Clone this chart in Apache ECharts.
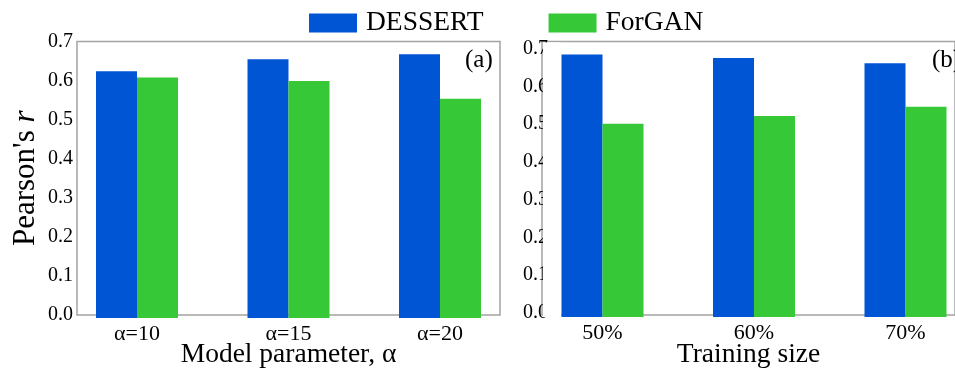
<!DOCTYPE html>
<html>
<head>
<meta charset="utf-8">
<script src="https://cdn.jsdelivr.net/npm/echarts@6/dist/echarts.min.js"></script>
<style>
  html, body { margin: 0; padding: 0; background: #fff; }
  #chart { width: 955px; height: 374px; }
</style>
</head>
<body>
<div id="chart"></div>
<script>
// Panel (a): effect of the model parameter α
const categoriesA = ['α=10', 'α=15', 'α=20'];
const dessertA = [0.625, 0.655, 0.668];
const forganA = [0.609, 0.600, 0.555];

// Panel (b): effect of the training size
const categoriesB = ['50%', '60%', '70%'];
const dessertB = [0.667, 0.658, 0.645];
const forganB = [0.491, 0.511, 0.534];

// Shared value axis
const yMin = 0;
const yMax = 0.7;
const yStep = 0.1;

const seriesNames = ['DESSERT', 'ForGAN'];
const BLUE = '#0055d4';
const GREEN = '#37c837';
const FONT = "'Liberation Serif', 'Times New Roman', serif";
const FRAME = '#a3a3a3';

// Layout (pixels); category points run from firstX to lastX
const A = { frameL: 77, frameR: 500, top: 41.5, bottom: 318, firstX: 137, lastX: 440 };
const B = { frameL: 542, frameR: 958, top: 41.5, bottom: 317, firstX: 602.5, lastX: 905.5,
            labelTop: 48.5, labelBottom: 313 };
const BAR_W = 41;

const chart = echarts.init(document.getElementById('chart'), null, { renderer: 'canvas' });

const labelFmt = v => v.toFixed(1);
const yTickText = { fontFamily: FONT, fontSize: 20, color: '#000' };
const xTickText = { fontFamily: FONT, fontSize: 22, color: '#000' };
const titleText = { fontFamily: FONT, fontSize: 27.5, color: '#000' };

function hiddenValueAxis(gridIndex, extra) {
  return Object.assign({
    gridIndex, type: 'value', min: 0, max: 1, show: false,
    splitLine: { show: false }
  }, extra || {});
}

function frameXAxis(gridIndex, name) {
  return {
    gridIndex, type: 'value', min: 0, max: 1,
    name, nameLocation: 'middle', nameGap: 26,
    nameTextStyle: titleText,
    axisLine: { show: false }, axisTick: { show: false },
    axisLabel: { show: false }, splitLine: { show: false }
  };
}

function valueY(gridIndex, extra) {
  return Object.assign({
    gridIndex, type: 'value', min: yMin, max: yMax, interval: yStep,
    axisLine: { show: false }, axisTick: { show: false },
    splitLine: { show: false }
  }, extra || {});
}

function categoryX(gridIndex, data) {
  return {
    gridIndex, type: 'category', data, boundaryGap: false,
    axisLine: { show: false }, axisTick: { show: false },
    axisLabel: Object.assign({ margin: 5 }, xTickText),
    splitLine: { show: false }
  };
}

function bars(name, data, axisIdx, color) {
  return {
    name, type: 'bar', data,
    xAxisIndex: axisIdx, yAxisIndex: axisIdx,
    barWidth: BAR_W, barGap: '0%',
    itemStyle: { color },
    emphasis: { disabled: true },
    animation: false
  };
}

const option = {
  animation: false,
  backgroundColor: '#fff',
  textStyle: { fontFamily: FONT },
  legend: {
    data: seriesNames,
    left: 304, top: 4,
    itemWidth: 48, itemHeight: 19, itemGap: 65,
    icon: 'rect',
    textStyle: Object.assign({ padding: [0, 0, 0, 4] }, titleText),
    selectedMode: false
  },
  grid: [
    // 0: frame of panel (a)
    { left: A.frameL, top: A.top, width: A.frameR - A.frameL, height: A.bottom - A.top,
      show: true, borderColor: FRAME, borderWidth: 1.5, backgroundColor: 'transparent' },
    // 1: bars of panel (a)
    { left: A.firstX, top: A.top, width: A.lastX - A.firstX, height: A.bottom - A.top },
    // 2: frame of panel (b)
    { left: B.frameL, top: B.top, width: B.frameR - B.frameL, height: B.bottom - B.top,
      show: true, borderColor: FRAME, borderWidth: 1.5, backgroundColor: 'transparent' },
    // 3: bars of panel (b)
    { left: B.firstX, top: B.top, width: B.lastX - B.firstX, height: B.bottom - B.top },
    // 4: tick labels of panel (b)
    { left: B.frameL + 8, top: B.labelTop, width: 10, height: B.labelBottom - B.labelTop }
  ],
  xAxis: [
    frameXAxis(0, 'Model parameter, α'),
    categoryX(1, categoriesA),
    frameXAxis(2, 'Training size'),
    categoryX(3, categoriesB),
    hiddenValueAxis(4)
  ],
  yAxis: [
    valueY(0, {
      axisLabel: Object.assign({ margin: 4, formatter: labelFmt }, yTickText),
      name: "Pearson's {i|r}", nameLocation: 'middle', nameGap: 36,
      nameTextStyle: {
        fontFamily: FONT, fontSize: 31, color: '#000',
        rich: { i: { fontFamily: FONT, fontSize: 31, fontStyle: 'italic', color: '#000' } }
      }
    }),
    valueY(1, { show: false }),
    valueY(2, { show: false }),
    valueY(3, { show: false }),
    valueY(4, { axisLabel: Object.assign({ margin: 2, formatter: labelFmt }, yTickText) })
  ],
  graphic: [
    // mask that trims panel (b) tick labels at its left spine
    { type: 'rect', z: 1, silent: true,
      shape: { x: B.frameL + 1, y: B.top + 1, width: 18, height: B.bottom - B.top - 1 },
      style: { fill: '#fff' } },
    { type: 'text', z: 5, x: 465, y: 60,
      style: { text: '(a)', font: '25px ' + FONT, fill: '#000', textVerticalAlign: 'middle' } },
    { type: 'text', z: 5, x: 932, y: 60,
      style: { text: '(b)', font: '25px ' + FONT, fill: '#000', textVerticalAlign: 'middle' } }
  ],
  series: [
    bars(seriesNames[0], dessertA, 1, BLUE),
    bars(seriesNames[1], forganA, 1, GREEN),
    bars(seriesNames[0], dessertB, 3, BLUE),
    bars(seriesNames[1], forganB, 3, GREEN)
  ]
};

chart.setOption(option);
</script>
</body>
</html>
